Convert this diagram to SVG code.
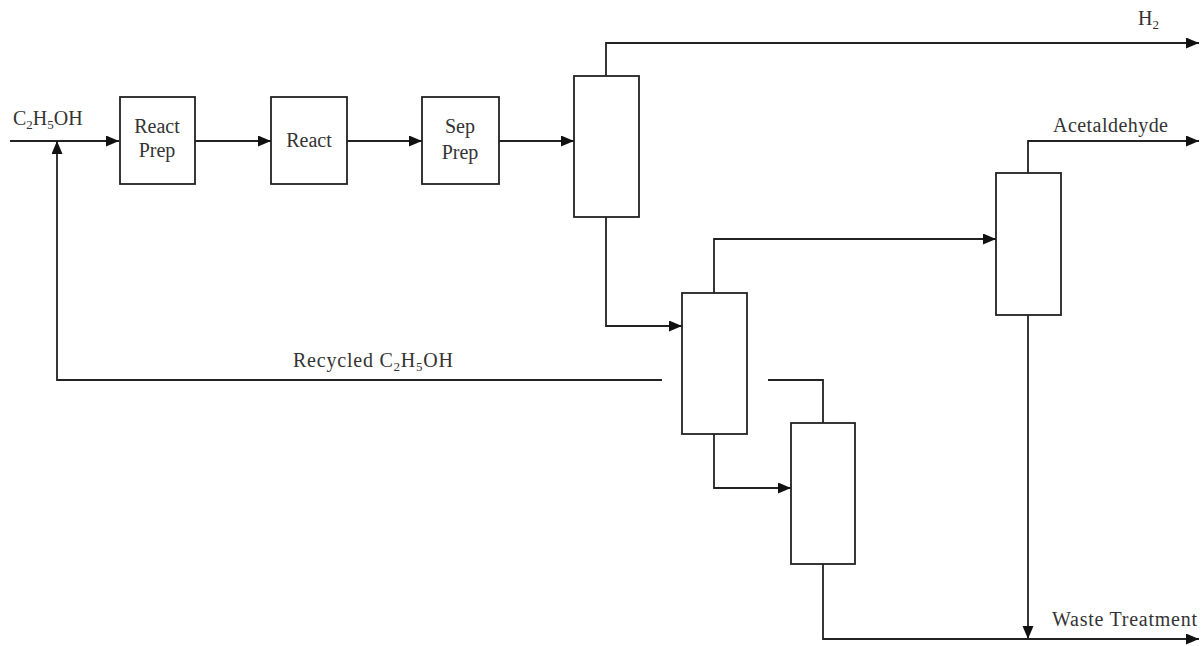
<svg xmlns="http://www.w3.org/2000/svg" width="1201" height="646" viewBox="0 0 1201 646">
<defs>
<marker id="arr" markerUnits="userSpaceOnUse" markerWidth="14" markerHeight="12" refX="13" refY="5.5" orient="auto">
<path d="M0,0 L13,5.5 L0,11 z" fill="#111"/>
</marker>
<style>
.box{fill:#fff;stroke:#222;stroke-width:1.8}
.ln{fill:none;stroke:#222;stroke-width:1.8}
text{font-family:"Liberation Serif","Times New Roman",serif;font-size:20px;fill:#333}
.sub{font-size:13px}
</style>
</defs>
<rect width="1201" height="646" fill="#fff"/>
<g id="connectors">
<path class="ln" d="M10 141 H119" marker-end="url(#arr)"/>
<path class="ln" d="M195 141 H271" marker-end="url(#arr)"/>
<path class="ln" d="M347 141 H422" marker-end="url(#arr)"/>
<path class="ln" d="M499 141 H574" marker-end="url(#arr)"/>
<path class="ln" d="M606 76 V43 H1199" marker-end="url(#arr)"/>
<path class="ln" d="M606 217 V326 H682" marker-end="url(#arr)"/>
<path class="ln" d="M714 293 V239 H996" marker-end="url(#arr)"/>
<path class="ln" d="M1028 173 V141 H1199" marker-end="url(#arr)"/>
<path class="ln" d="M1028 315 V639" marker-end="url(#arr)"/>
<path class="ln" d="M662 380 H57 V141" marker-end="url(#arr)"/>
<path class="ln" d="M768 380 H823 V423"/>
<path class="ln" d="M714 434 V488 H791" marker-end="url(#arr)"/>
<path class="ln" d="M823 564 V639 H1199" marker-end="url(#arr)"/>
</g>
<g id="react-prep">
<rect class="box" x="120" y="97" width="75" height="87"/>
<text x="157" y="133" text-anchor="middle">React</text>
<text x="157" y="157" text-anchor="middle">Prep</text>
</g>
<g id="react">
<rect class="box" x="271" y="97" width="76" height="87"/>
<text x="309" y="147" text-anchor="middle">React</text>
</g>
<g id="sep-prep">
<rect class="box" x="422" y="97" width="77" height="87"/>
<text x="460" y="133" text-anchor="middle">Sep</text>
<text x="460" y="159" text-anchor="middle">Prep</text>
</g>
<g id="column1">
<rect class="box" x="574" y="76" width="65" height="141"/>
</g>
<g id="column2">
<rect class="box" x="682" y="293" width="65" height="141"/>
</g>
<g id="column3">
<rect class="box" x="996" y="173" width="65" height="142"/>
</g>
<g id="column4">
<rect class="box" x="791" y="423" width="64" height="141"/>
</g>
<g id="labels">
<text x="13" y="125">C<tspan class="sub" dy="4">2</tspan><tspan dy="-4">H</tspan><tspan class="sub" dy="4">5</tspan><tspan dy="-4">OH</tspan></text>
<text x="1138" y="25">H<tspan class="sub" dy="4">2</tspan></text>
<text x="1053" y="132" textLength="115" lengthAdjust="spacing">Acetaldehyde</text>
<text x="1052" y="626" textLength="145" lengthAdjust="spacing">Waste Treatment</text>
<text x="293" y="367" textLength="160" lengthAdjust="spacing">Recycled C<tspan class="sub" dy="4">2</tspan><tspan dy="-4">H</tspan><tspan class="sub" dy="4">5</tspan><tspan dy="-4">OH</tspan></text>
</g>
</svg>
